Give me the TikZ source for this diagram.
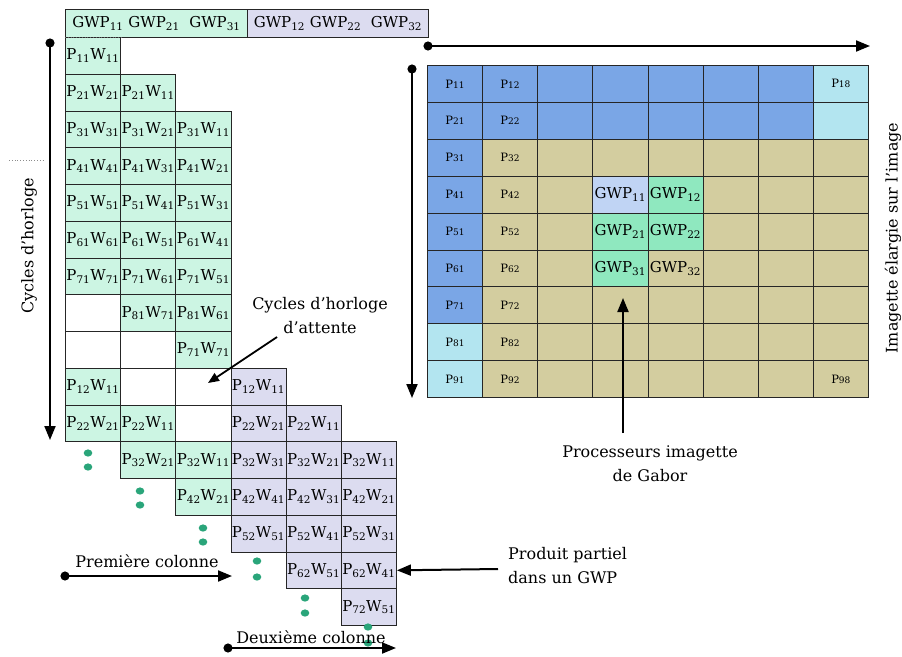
\documentclass[tikz,border=0pt]{standalone}
\usepackage{fontspec}
\setmainfont{DejaVu Serif}
\usetikzlibrary{arrows.meta}
\definecolor{lgreen}{HTML}{CCF5E3}
\definecolor{lav}{HTML}{DCDCF0}
\definecolor{rblue}{HTML}{7AA6E6}
\definecolor{rcyan}{HTML}{B3E5F0}
\definecolor{khaki}{HTML}{D3CD9F}
\definecolor{gwpblue}{HTML}{C0D4F4}
\definecolor{gwpgreen}{HTML}{8FE8BF}
\definecolor{dotc}{HTML}{2AA57A}
\newcommand{\pw}[2]{P\textsubscript{#1}W\textsubscript{#2}}
\newcommand{\gwp}[1]{GWP\textsubscript{#1}}
\newcommand{\rlab}[1]{{\fontsize{11.5}{13}\selectfont P{\fontsize{9}{10}\selectfont #1}}}
\begin{document}
\begin{tikzpicture}[x=1pt,y=-1pt,
  lcell/.style={draw=black!85, line width=0.9pt, minimum width=55.17pt, minimum height=36.75pt, inner sep=0pt, anchor=north west, font=\fontsize{15}{17}\selectfont},
  rcell/.style={draw=black!85, line width=0.8pt, minimum width=55.125pt, minimum height=36.9pt, inner sep=0pt, anchor=north west, font=\fontsize{15}{17}\selectfont},
  hcell/.style={draw=black!85, line width=0.9pt, minimum height=28pt, inner sep=0pt, anchor=north west, font=\fontsize{15}{17}\selectfont},
  arr/.style={line width=2pt, {Circle[length=9pt]}-{Triangle[length=14pt,width=11pt]}},
  lbl/.style={font=\fontsize{16}{24}\selectfont, inner sep=0pt}
]
\useasboundingbox (0,0) rectangle (902,656);

% header
\node[hcell, fill=lgreen, minimum width=182pt] (H1) at (65,9) {\gwp{11} \gwp{21}\ \ \gwp{31}};
\node[hcell, fill=lav, minimum width=181pt] (H2) at (247,9) {\gwp{12} \gwp{22}\ \ \gwp{32}};

% left grid
\foreach \r/\c/\f/\t in {
 0/0/lgreen/{\pw{11}{11}},
 1/0/lgreen/{\pw{21}{21}}, 1/1/lgreen/{\pw{21}{11}},
 2/0/lgreen/{\pw{31}{31}}, 2/1/lgreen/{\pw{31}{21}}, 2/2/lgreen/{\pw{31}{11}},
 3/0/lgreen/{\pw{41}{41}}, 3/1/lgreen/{\pw{41}{31}}, 3/2/lgreen/{\pw{41}{21}},
 4/0/lgreen/{\pw{51}{51}}, 4/1/lgreen/{\pw{51}{41}}, 4/2/lgreen/{\pw{51}{31}},
 5/0/lgreen/{\pw{61}{61}}, 5/1/lgreen/{\pw{61}{51}}, 5/2/lgreen/{\pw{61}{41}},
 6/0/lgreen/{\pw{71}{71}}, 6/1/lgreen/{\pw{71}{61}}, 6/2/lgreen/{\pw{71}{51}},
 7/0/white/{}, 7/1/lgreen/{\pw{81}{71}}, 7/2/lgreen/{\pw{81}{61}},
 8/0/white/{}, 8/1/white/{}, 8/2/lgreen/{\pw{71}{71}},
 9/0/lgreen/{\pw{12}{11}}, 9/1/white/{}, 9/2/white/{}, 9/3/lav/{\pw{12}{11}},
 10/0/lgreen/{\pw{22}{21}}, 10/1/lgreen/{\pw{22}{11}}, 10/2/white/{}, 10/3/lav/{\pw{22}{21}}, 10/4/lav/{\pw{22}{11}},
 11/1/lgreen/{\pw{32}{21}}, 11/2/lgreen/{\pw{32}{11}}, 11/3/lav/{\pw{32}{31}}, 11/4/lav/{\pw{32}{21}}, 11/5/lav/{\pw{32}{11}},
 12/2/lgreen/{\pw{42}{21}}, 12/3/lav/{\pw{42}{41}}, 12/4/lav/{\pw{42}{31}}, 12/5/lav/{\pw{42}{21}},
 13/3/lav/{\pw{52}{51}}, 13/4/lav/{\pw{52}{41}}, 13/5/lav/{\pw{52}{31}},
 14/4/lav/{\pw{62}{51}}, 14/5/lav/{\pw{62}{41}},
 15/5/lav/{\pw{72}{51}}}
 {\node[lcell, fill=\f] (L-\r-\c) at ({65+55.17*\c},{37+36.75*\r}) {\t};}
\draw[black!60, line width=0.8pt, dotted] (L-0-0.north west) -- (L-0-0.north east);

% green dots
\foreach \x/\y in {88/453,88/467,140/491,140/505,203/528,203/542,257/561,257/577,305/598,305/613,368/627,368/643}
 {\fill[dotc] (\x,\y) ellipse (4.3 and 3.6);}

% right grid
\foreach \r in {0,...,8}{
 \foreach \c in {0,...,7}{
  \pgfmathtruncatemacro\rr{\r+1}
  \def\fc{khaki}\def\lab{}\def\glab{}
  \ifnum\r<2 \def\fc{rblue}\ifnum\c=7 \def\fc{rcyan}\fi\fi
  \ifnum\c=0 \ifnum\r>1 \def\fc{rblue}\fi\ifnum\r>6 \def\fc{rcyan}\fi\fi
  \ifnum\c=0 \edef\lab{\rr1}\fi
  \ifnum\c=1 \edef\lab{\rr2}\fi
  \ifnum\c=7 \ifnum\r=0 \def\lab{18}\fi\ifnum\r=8 \def\lab{98}\fi\fi
  \ifnum\r>2 \ifnum\r<6 \ifnum\c>2 \ifnum\c<5
     \pgfmathtruncatemacro\gi{\r-2}\pgfmathtruncatemacro\gj{\c-2}%
     \edef\glab{\gi\gj}\def\fc{gwpgreen}%
     \ifnum\r=3 \ifnum\c=3 \def\fc{gwpblue}\fi\fi
     \ifnum\r=5 \ifnum\c=4 \def\fc{khaki}\fi\fi
  \fi\fi\fi\fi
  \node[rcell, fill=\fc] (R-\r-\c) at ({427+55.125*\c},{65+36.9*\r})
    {\ifx\lab\empty\else\rlab{\lab}\fi\ifx\glab\empty\else\gwp{\glab}\fi};
 }}

% arrows with start dots
\coordinate (la0) at (50,38.5);  \coordinate (la1) at (50,440);
\coordinate (ta0) at (423.5,46); \coordinate (ta1) at (870,46);
\coordinate (ra0) at (412,64.5); \coordinate (ra1) at (412,398);
\coordinate (pc0) at (60.5,576); \coordinate (pc1) at (232,576);
\coordinate (dc0) at (223.5,648); \coordinate (dc1) at (396,648);
\draw[arr] (la0) -- (la1);
\draw[arr] (ta0) -- (ta1);
\draw[arr] (ra0) -- (ra1);
\draw[arr] (pc0) -- (pc1);
\draw[arr] (dc0) -- (dc1);

% dotted mark
\coordinate (dm0) at (9,160); \coordinate (dm1) at (44,160);
\draw[black!45, line width=0.8pt, dotted] (dm0) -- (dm1);

% labels
\node[lbl, rotate=90] (cyc) at (29,246) {Cycles d'horloge};
\node[lbl, rotate=90] (ima) at (893,238) {Imagette élargie sur l'image};
\node[lbl, align=center] (att) at (320,316) {Cycles d'horloge\\d'attente};
\node[lbl] (prem) at (147,561) {Première colonne};
\node[lbl] (deux) at (311,637) {Deuxième colonne};
\node[lbl, align=left, anchor=west] (prod) at (508,566) {Produit partiel\\dans un GWP};
\node[lbl, align=center] (proc) at (650,464) {Processeurs imagette\\de Gabor};

% pointer arrows
\coordinate (at0) at (277,337); \coordinate (at1) at (208,383);
\draw[line width=1.8pt, -{Triangle[length=11pt,width=9pt]}] (at0) -- (at1);
\coordinate (pr0) at (498,569);
\draw[line width=2pt, -{Triangle[length=14pt,width=11pt]}] (pr0) -- (L-14-5.east);
\coordinate (pp0) at (623,433); \coordinate (pp1) at (623,298);
\draw[line width=2pt, -{Triangle[length=14pt,width=11pt]}] (pp0) -- (pp1);
\end{tikzpicture}
\end{document}
